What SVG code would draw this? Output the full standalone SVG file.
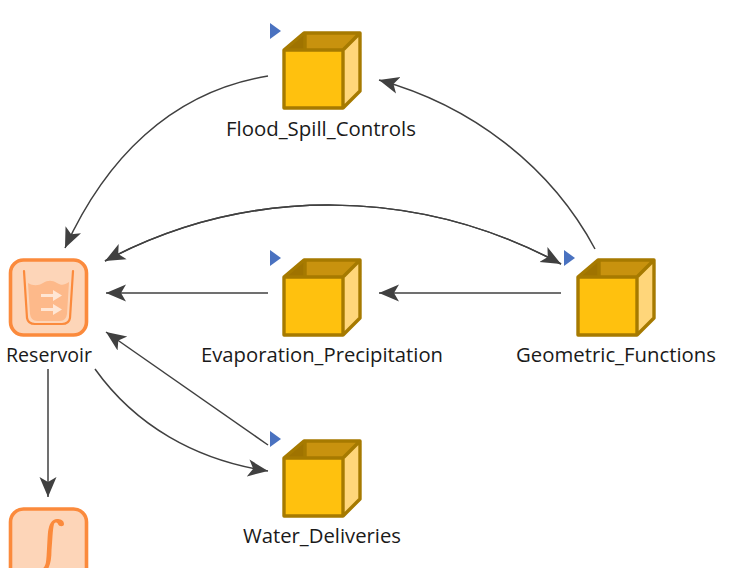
<svg xmlns="http://www.w3.org/2000/svg" width="733" height="568" viewBox="0 0 733 568">
<style>
text{font-family:"Open Sans","Noto Sans","Liberation Sans",sans-serif;font-size:20px;fill:#1a1a1a;text-anchor:middle}
.c{fill:none;stroke:#404040;stroke-width:1.5;marker-end:url(#a)}
.tile{fill:#fdd5b8;stroke:#fb8a3c;stroke-width:3.6}
</style>
<defs>
<marker id="a" markerUnits="userSpaceOnUse" markerWidth="22" markerHeight="20" refX="20" refY="10" orient="auto"><path d="M0 1.5L20 10L0 18.5L5 10Z" fill="#404040"/></marker>
<g id="cube">
<path d="M283 50L303 33H360L343 50Z" fill="#c8920e"/>
<path d="M283 50L303 33H306V50Z" fill="#9f7300"/>
<path d="M343 50L360 33V91L343 108Z" fill="#ffd67a"/>
<rect x="284" y="50" width="59" height="58" fill="#ffc10e"/>
<path d="M284 50H343V108H284ZM284 50L304 33H360V91L343 108M343 50L360 33M305 33V50" fill="none" stroke="#a67a00" stroke-width="3.4" stroke-linejoin="round"/>
<path d="M270 23L281 31L270 39Z" fill="#4a72c0"/>
</g>
</defs>
<rect width="733" height="568" fill="#fff"/>
<g id="connectors">
<path class="c" d="M268 76C170 92 105 160 65 248"/>
<path class="c" d="M595 249C550 165 470 105 379 80"/>
<path class="c" d="M105 261C250 184 420 188 561 264"/>
<path class="c" d="M561 264C420 188 250 184 105 261"/>
<path class="c" d="M268 293H106"/>
<path class="c" d="M561 293H379"/>
<path class="c" d="M268 445L106 332"/>
<path class="c" d="M95 369C135 425 195 460 268 471"/>
<path class="c" d="M48 369V497"/>
</g>
<g id="Flood_Spill_Controls"><use href="#cube"/><text x="321" y="136" textLength="190" lengthAdjust="spacingAndGlyphs">Flood_Spill_Controls</text></g>
<g id="Evaporation_Precipitation"><use href="#cube" y="227"/><text x="322" y="362" textLength="242" lengthAdjust="spacingAndGlyphs">Evaporation_Precipitation</text></g>
<g id="Geometric_Functions"><use href="#cube" x="294" y="227"/><text x="616" y="362" textLength="200" lengthAdjust="spacingAndGlyphs">Geometric_Functions</text></g>
<g id="Water_Deliveries"><use href="#cube" y="408"/><text x="322" y="543" textLength="158" lengthAdjust="spacingAndGlyphs">Water_Deliveries</text></g>
<g id="Reservoir">
<rect class="tile" x="10.5" y="260" width="76" height="75" rx="13"/>
<path d="M28 283C33 286 38 286 43 283S52 280 57 283 64 285 69 282L67 314Q66 321 60 321H37Q31 321 30 314Z" fill="#fdb98a"/>
<path d="M24 271L27 318Q28 324 35 324H62Q69 324 70 318L73 271" fill="none" stroke="#fb8a3c" stroke-width="2.2" stroke-linecap="round"/>
<path d="M41 294H53V290L62 295.5L53 301V297H41ZM41 308H53V304L62 309.5L53 315V311H41Z" fill="#ffe6d4"/>
<text x="49" y="362" textLength="86" lengthAdjust="spacingAndGlyphs">Reservoir</text>
</g>
<g id="Integrator">
<rect class="tile" x="10.5" y="509" width="76" height="75" rx="13"/>
<path d="M64 524C64 520 60 519 57 519C52 519 49 524 48 532C47 545 47 555 46 562C45 567 43 570 38 569L35 568V572L46 572C50 567 51.500 560 51.500 550C52.500 540 52.500 530 54 524C55 522 57 522 58 524C59 527 64 527 64 524Z" fill="#fb8a3c"/>
</g>
</svg>
